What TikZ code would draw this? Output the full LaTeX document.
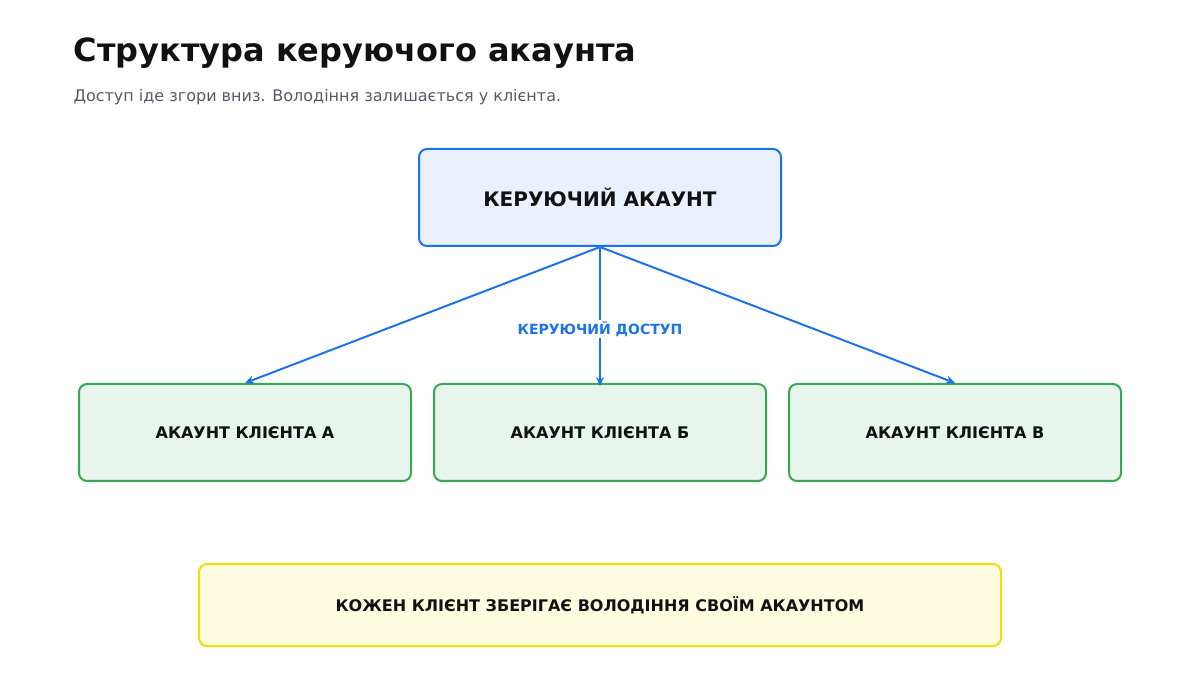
\documentclass[tikz,border=0pt]{standalone}
\usepackage{fontspec}
\setmainfont{DejaVu Sans}
\usetikzlibrary{arrows.meta}
\definecolor{blueS}{HTML}{1A73E8}
\definecolor{blueF}{HTML}{EAF1FD}
\definecolor{greenS}{HTML}{34A853}
\definecolor{greenF}{HTML}{E8F5EC}
\definecolor{yelS}{HTML}{F0E000}
\definecolor{yelF}{HTML}{FEFCE0}
\definecolor{txt}{HTML}{111111}
\definecolor{sub}{HTML}{555B66}
\begin{document}
\begin{tikzpicture}[x=1pt,y=-1pt,
  box/.style={draw,line width=2pt,rounded corners=8pt,inner sep=0pt,text=txt,font=\bfseries},
  top/.style={box,draw=blueS,fill=blueF,minimum width=362pt,minimum height=97pt,font=\bfseries\fontsize{20}{24}\selectfont},
  cli/.style={box,draw=greenS,fill=greenF,minimum width=332pt,minimum height=97pt,font=\bfseries\fontsize{16}{19}\selectfont},
  note/.style={box,draw=yelS,fill=yelF,minimum width=802pt,minimum height=82pt,font=\bfseries\fontsize{16}{19}\selectfont},
  arr/.style={draw=blueS,line width=2pt,-{Stealth[length=9pt,width=8pt]}}]
\useasboundingbox (0,0) rectangle (1200,700);
\node[anchor=west,font=\bfseries\fontsize{32}{38}\selectfont,text=txt] (title) at (70,53) {Структура керуючого акаунта};
\node[anchor=west,font=\fontsize{16}{19}\selectfont,text=sub] (subt) at (70,97) {Доступ іде згори вниз. Володіння залишається у клієнта.};
\node[top] (m) at (600,197.5) {КЕРУЮЧИЙ АКАУНТ};
\node[cli] (a) at (245,432.5) {АКАУНТ КЛІЄНТА А};
\node[cli] (b) at (600,432.5) {АКАУНТ КЛІЄНТА Б};
\node[cli] (c) at (955,432.5) {АКАУНТ КЛІЄНТА В};
\node[note] (n) at (600,605) {КОЖЕН КЛІЄНТ ЗБЕРІГАЄ ВОЛОДІННЯ СВОЇМ АКАУНТОМ};
\coordinate (o) at (600,247);
\draw[arr] (o) -- (a.north);
\draw[arr] (o) -- ([yshift=-3pt]b.north);
\draw[arr] (o) -- (c.north);
\node[font=\bfseries\fontsize{14}{17}\selectfont,text=blueS,fill=white,inner sep=1pt] (lbl) at (600,329) {КЕРУЮЧИЙ ДОСТУП};
\end{tikzpicture}
\end{document}
